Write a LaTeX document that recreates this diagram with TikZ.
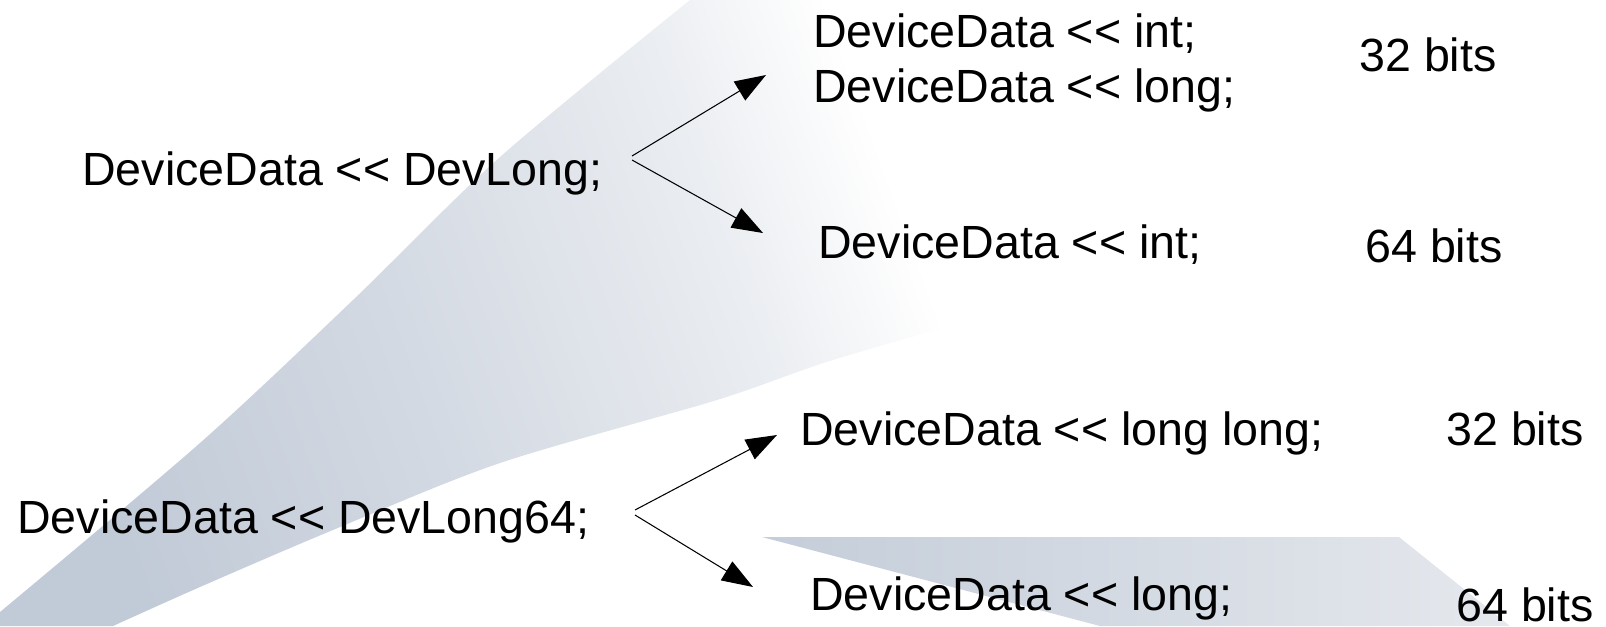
\documentclass[tikz,border=0pt]{standalone}
\usepackage{fontspec}
\setmainfont{Liberation Sans}[Ligatures=TeXOff]
\usetikzlibrary{arrows.meta}
\definecolor{wedgedark}{RGB}{193,202,215}
\definecolor{wedgemid}{RGB}{212,218,227}
\definecolor{wedgelight}{RGB}{234,237,241}
\definecolor{swooshdark}{RGB}{196,205,217}
\definecolor{swooshlight}{RGB}{229,232,237}
\pgfdeclarehorizontalshading{wedgeshade}{100bp}{color(0bp)=(wedgedark); color(25bp)=(wedgedark);
    color(42bp)=(wedgemid); color(58bp)=(wedgelight); color(67bp)=(white); color(100bp)=(white)}

\begin{document}
\begin{tikzpicture}[x=0.02cm, y=-0.02cm,
        code/.style={anchor=base west, inner sep=0pt, font=\fontsize{26.5}{33}\selectfont},
        bits/.style={code},
        arrow/.style={-{Triangle[length=0.62cm, width=0.44cm]}, line width=0.6pt}]
    \useasboundingbox (0,0) rectangle (1606,626);

    % Background
    \shade[shading=wedgeshade, shading angle=20]
        (690,0) -- (1150,0) -- (1150,280)
        -- plot[smooth] coordinates {(1150,280) (1000,313) (833,360) (717,400) (500,463) (333,530) (200,587) (113,626)}
        -- (0,626)
        -- plot[smooth] coordinates {(0,612) (200,443) (353,300) (500,157) (690,0)} -- cycle;
    \shade[left color=swooshdark, right color=swooshlight]
        (762,537) -- (1399,537) -- (1510,626) -- (1100,626) -- cycle;

    % Sources
    \node[code] (devlong) at (82,185) {DeviceData << DevLong;};
    \node[code] (devlong64) at (17,533) {DeviceData << DevLong64;};

    % Targets
    \node[code] (intA) at (813,47) {DeviceData << int;};
    \node[code] (longA) at (813,102) {DeviceData << long;};
    \node[code] (intB) at (818,258) {DeviceData << int;};
    \node[code] (longlong) at (800,445) {DeviceData << long long;};
    \node[code] (longB) at (810,610) {DeviceData << long;};

    % Sizes
    \node[bits] (bitsA) at (1359,71) {32 bits};
    \node[bits] (bitsB) at (1365,262) {64 bits};
    \node[bits] (bitsC) at (1446,445) {32 bits};
    \node[bits] (bitsD) at (1456,621) {64 bits};

    % Arrows
    \draw[arrow] ([shift={(550,-29)}]devlong.base west) -- ([shift={(-47,28)}]intA.base west);
    \draw[arrow] ([shift={(550,-25)}]devlong.base west) -- ([shift={(-55,-25)}]intB.base west);
    \draw[arrow] ([shift={(618,-23)}]devlong64.base west) -- ([shift={(-23,-10)}]longlong.base west);
    \draw[arrow] ([shift={(618,-18)}]devlong64.base west) -- ([shift={(-57,-23)}]longB.base west);

\end{tikzpicture}
\end{document}
